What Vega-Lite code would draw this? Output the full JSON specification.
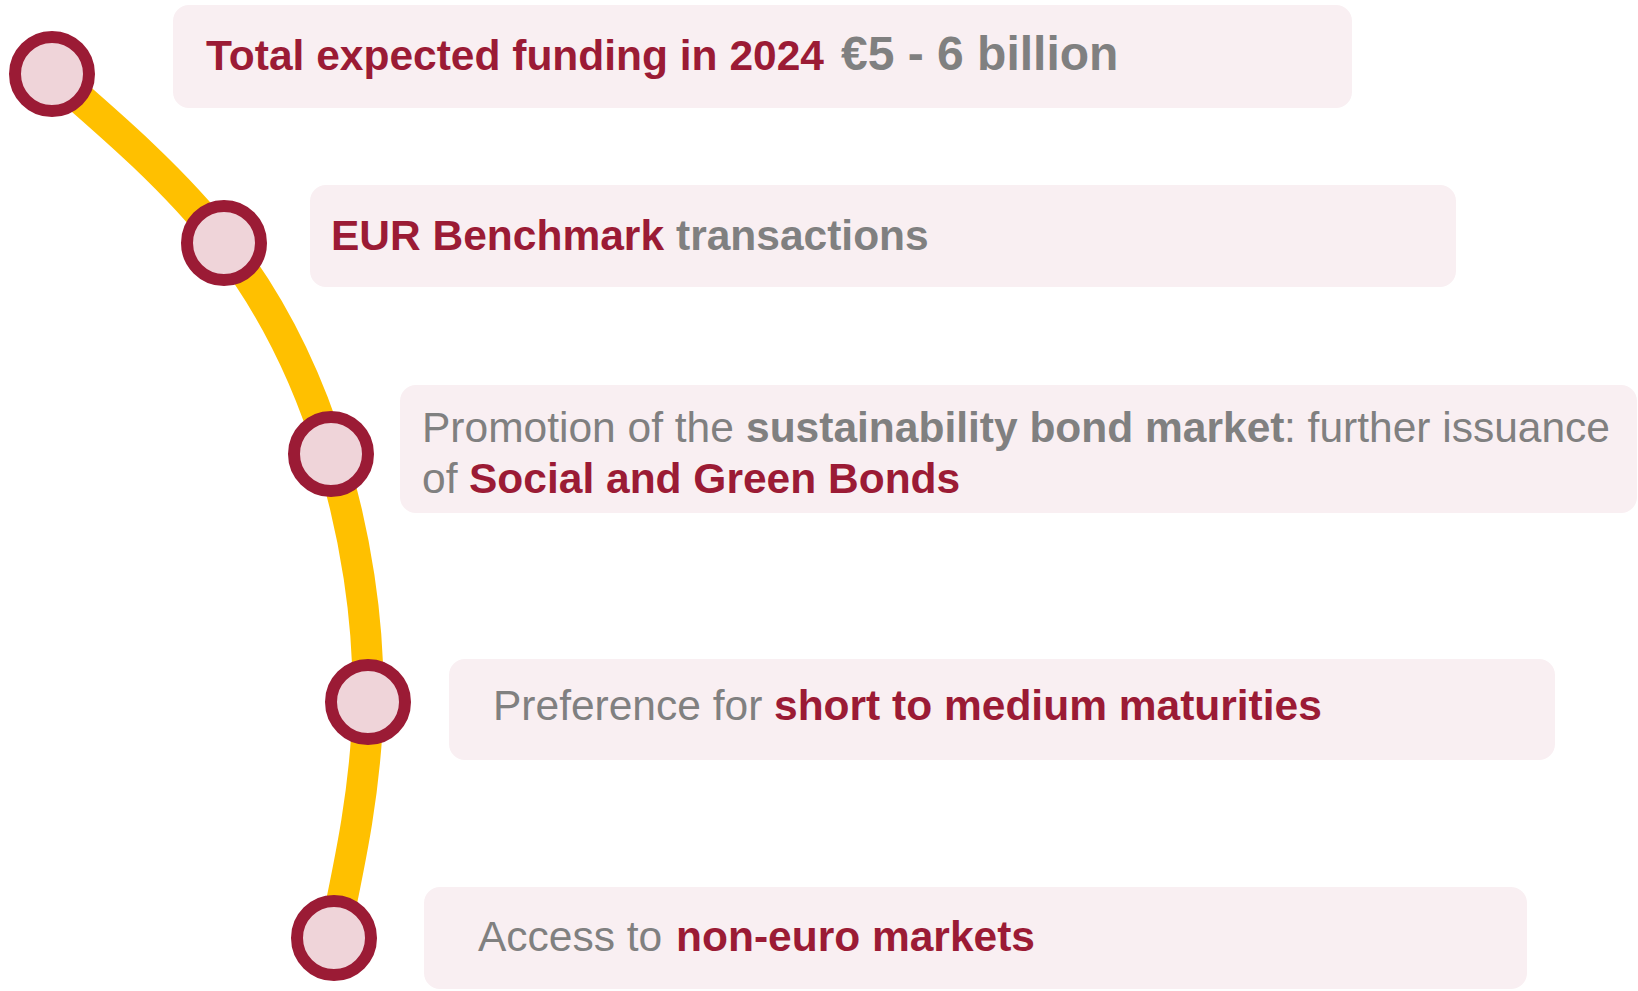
{
  "$schema": "https://vega.github.io/schema/vega-lite/v6.json",
  "width": 1638,
  "height": 991,
  "autosize": {"type": "none"},
  "padding": 0,
  "background": "white",
  "config": {"view": {"stroke": null}},
  "datasets": {
    "boxes": [
      {"item": 1, "x0": 173, "x1": 1352, "y0": 5, "y1": 108},
      {"item": 2, "x0": 310, "x1": 1456, "y0": 185, "y1": 287},
      {"item": 3, "x0": 400, "x1": 1637, "y0": 385, "y1": 513},
      {"item": 4, "x0": 449, "x1": 1555, "y0": 659, "y1": 760},
      {"item": 5, "x0": 424, "x1": 1527, "y0": 887, "y1": 989}
    ],
    "nodes": [
      {"item": 1, "cx": 52, "cy": 74},
      {"item": 2, "cx": 224, "cy": 243},
      {"item": 3, "cx": 331, "cy": 454},
      {"item": 4, "cx": 368, "cy": 702},
      {"item": 5, "cx": 334, "cy": 938}
    ],
    "segments": [
      {"item": 1, "x": 206, "y": 70, "role": "emphasis", "text": "Total expected funding in 2024"},
      {"item": 1, "x": 841, "y": 70, "role": "figure", "text": "€5 - 6 billion"},
      {"item": 2, "x": 331, "y": 250, "role": "emphasis", "text": "EUR Benchmark"},
      {"item": 2, "x": 676, "y": 250, "role": "highlight", "text": "transactions"},
      {"item": 3, "x": 422, "y": 442, "role": "plain", "text": "Promotion of the"},
      {"item": 3, "x": 746, "y": 442, "role": "highlight", "text": "sustainability bond market"},
      {"item": 3, "x": 1284, "y": 442, "role": "plain", "text": ": further issuance"},
      {"item": 3, "x": 422, "y": 493, "role": "plain", "text": "of"},
      {"item": 3, "x": 469, "y": 493, "role": "emphasis", "text": "Social and Green Bonds"},
      {"item": 4, "x": 493, "y": 720, "role": "plain", "text": "Preference for"},
      {"item": 4, "x": 774, "y": 720, "role": "emphasis", "text": "short to medium maturities"},
      {"item": 5, "x": 478, "y": 951, "role": "plain", "text": "Access to"},
      {"item": 5, "x": 676, "y": 951, "role": "emphasis", "text": "non-euro markets"}
    ]
  },
  "layer": [
    {
      "data": {"name": "boxes"},
      "mark": {"type": "rect", "cornerRadius": 16, "fill": "#F9EFF2"},
      "encoding": {
        "x": {"field": "x0", "type": "quantitative", "scale": {"domain": [0, 1638], "nice": false, "zero": false}, "axis": null},
        "x2": {"field": "x1"},
        "y": {"field": "y0", "type": "quantitative", "scale": {"domain": [0, 991], "nice": false, "zero": false, "reverse": true}, "axis": null},
        "y2": {"field": "y1"}
      }
    },
    {
      "data": {"name": "nodes"},
      "mark": {"type": "line", "interpolate": "natural", "stroke": "#FFC000", "strokeWidth": 31, "strokeCap": "butt"},
      "encoding": {
        "x": {"field": "cx", "type": "quantitative", "scale": {"domain": [0, 1638], "nice": false, "zero": false}, "axis": null},
        "y": {"field": "cy", "type": "quantitative", "scale": {"domain": [0, 991], "nice": false, "zero": false, "reverse": true}, "axis": null},
        "order": {"field": "item", "type": "ordinal"}
      }
    },
    {
      "data": {"name": "nodes"},
      "mark": {"type": "point", "shape": "circle", "size": 5476, "filled": true, "fill": "#EFD4D9", "stroke": "#9B1B35", "strokeWidth": 12, "opacity": 1, "fillOpacity": 1},
      "encoding": {
        "x": {"field": "cx", "type": "quantitative", "axis": null},
        "y": {"field": "cy", "type": "quantitative", "axis": null}
      }
    },
    {
      "data": {"name": "segments"},
      "transform": [{"filter": "datum.role === 'emphasis'"}],
      "mark": {"type": "text", "align": "left", "baseline": "alphabetic", "font": "Liberation Sans", "fontSize": 42.5, "fontWeight": "bold", "fill": "#9B1B35"},
      "encoding": {
        "x": {"field": "x", "type": "quantitative", "axis": null},
        "y": {"field": "y", "type": "quantitative", "axis": null},
        "text": {"field": "text"}
      }
    },
    {
      "data": {"name": "segments"},
      "transform": [{"filter": "datum.role === 'highlight'"}],
      "mark": {"type": "text", "align": "left", "baseline": "alphabetic", "font": "Liberation Sans", "fontSize": 42.5, "fontWeight": "bold", "fill": "#808080"},
      "encoding": {
        "x": {"field": "x", "type": "quantitative", "axis": null},
        "y": {"field": "y", "type": "quantitative", "axis": null},
        "text": {"field": "text"}
      }
    },
    {
      "data": {"name": "segments"},
      "transform": [{"filter": "datum.role === 'plain'"}],
      "mark": {"type": "text", "align": "left", "baseline": "alphabetic", "font": "Liberation Sans", "fontSize": 42.5, "fontWeight": "normal", "fill": "#808080"},
      "encoding": {
        "x": {"field": "x", "type": "quantitative", "axis": null},
        "y": {"field": "y", "type": "quantitative", "axis": null},
        "text": {"field": "text"}
      }
    },
    {
      "data": {"name": "segments"},
      "transform": [{"filter": "datum.role === 'figure'"}],
      "mark": {"type": "text", "align": "left", "baseline": "alphabetic", "font": "Liberation Sans", "fontSize": 48, "fontWeight": "bold", "fill": "#808080"},
      "encoding": {
        "x": {"field": "x", "type": "quantitative", "axis": null},
        "y": {"field": "y", "type": "quantitative", "axis": null},
        "text": {"field": "text"}
      }
    }
  ]
}
